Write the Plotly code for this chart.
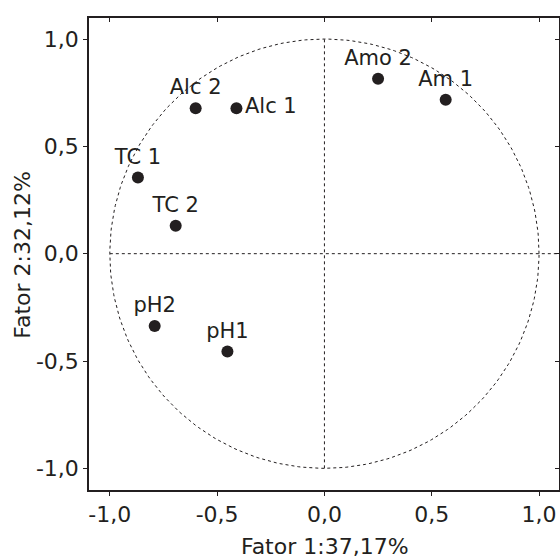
import plotly.graph_objects as go
import numpy as np

labels = ["Alc 2", "Alc 1", "TC 1", "TC 2", "Amo 2", "Am 1", "pH2", "pH1"]
fator1 = [-0.60, -0.41, -0.869, -0.693, 0.25, 0.565, -0.791, -0.452]
fator2 = [0.678, 0.678, 0.355, 0.13, 0.815, 0.717, -0.337, -0.456]
positions = ["top center", "middle right", "top center", "top center",
             "top center", "top center", "top center", "top center"]

tick_vals = [-1.0, -0.5, 0.0, 0.5, 1.0]
tick_text = ["-1,0", "-0,5", "0,0", "0,5", "1,0"]

x_title = "Fator 1:37,17%"
y_title = "Fator 2:32,12%"

FONT = "DejaVu Sans"
INK = "#231f20"

xr = [-1.097, 1.093]
yr = [-1.101, 1.098]

fig = go.Figure()

# unit circle
theta = np.linspace(0, 2 * np.pi, 361)
fig.add_trace(go.Scatter(x=np.cos(theta), y=np.sin(theta), mode="lines",
                         line=dict(color=INK, width=1, dash="dot"),
                         hoverinfo="skip", showlegend=False))
# reference lines
fig.add_trace(go.Scatter(x=[-1, xr[1]], y=[0, 0], mode="lines",
                         line=dict(color=INK, width=1, dash="dot"),
                         hoverinfo="skip", showlegend=False))
fig.add_trace(go.Scatter(x=[0, 0], y=[-1, 1], mode="lines",
                         line=dict(color=INK, width=1, dash="dot"),
                         hoverinfo="skip", showlegend=False))

fig.add_trace(go.Scatter(x=fator1, y=fator2, mode="markers+text",
                         text=labels, textposition=positions,
                         textfont=dict(family=FONT, size=21, color=INK),
                         marker=dict(size=12, color=INK),
                         showlegend=False))

# invisible trace for the top/right mirror axes
fig.add_trace(go.Scatter(x=[0], y=[0], xaxis="x2", yaxis="y2", mode="markers",
                         marker=dict(opacity=0), hoverinfo="skip", showlegend=False))

axis_common = dict(showgrid=False, zeroline=False, showline=True, linecolor=INK,
                   linewidth=1.5, tickvals=tick_vals, ticktext=tick_text,
                   ticks="outside", ticklen=4, tickwidth=1.2, tickcolor=INK,
                   tickfont=dict(family=FONT, size=22, color=INK), mirror=True,
                   automargin=False)

fig.update_layout(
    width=560, height=559,
    margin=dict(l=89, r=1, t=18, b=69, autoexpand=False),
    paper_bgcolor="white", plot_bgcolor="white",
    xaxis=dict(range=xr, **axis_common),
    yaxis=dict(range=yr, **axis_common),
    xaxis2=dict(range=xr, overlaying="x", side="top", tickvals=tick_vals,
                showticklabels=False, ticks="inside", ticklen=4, tickwidth=1.2,
                tickcolor=INK, showgrid=False, zeroline=False, showline=False,
                automargin=False),
    yaxis2=dict(range=yr, overlaying="y", side="right", tickvals=tick_vals,
                showticklabels=False, ticks="inside", ticklen=4, tickwidth=1.2,
                tickcolor=INK, showgrid=False, zeroline=False, showline=False,
                automargin=False),
    annotations=[
        dict(text=x_title, xref="paper", yref="paper", x=0.5015, y=-0.119,
             xanchor="center", yanchor="middle", showarrow=False,
             font=dict(family=FONT, size=22, color=INK)),
        dict(text=y_title, xref="paper", yref="paper", x=-0.141, y=0.498,
             xanchor="center", yanchor="middle", showarrow=False, textangle=-90,
             font=dict(family=FONT, size=22, color=INK)),
    ],
)

fig.write_html(
    "out.html",
    config={"displayModeBar": False},
    post_script="document.body.style.margin='0';document.body.style.overflow='hidden';",
)
